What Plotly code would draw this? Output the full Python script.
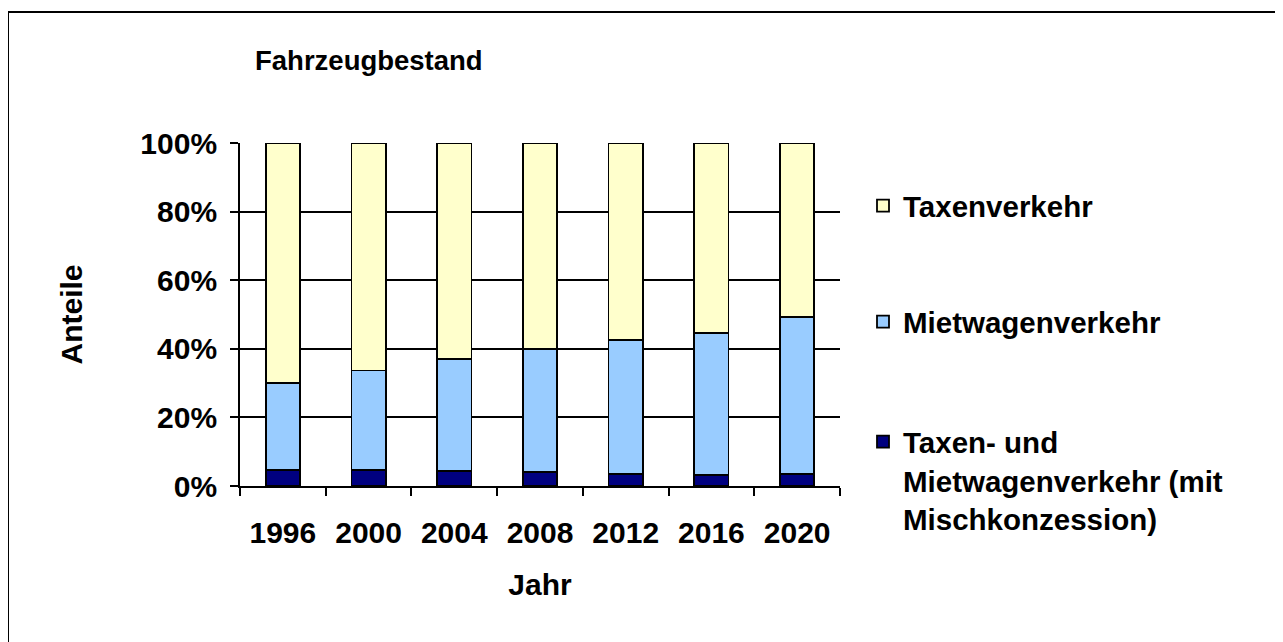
import plotly.graph_objects as go

years = ["1996", "2000", "2004", "2008", "2012", "2016", "2020"]
misch = [0.046, 0.046, 0.044, 0.040, 0.034, 0.031, 0.035]
miet_top = [0.300, 0.337, 0.371, 0.400, 0.426, 0.445, 0.492]
mietwagen = [round(t - m, 3) for t, m in zip(miet_top, misch)]
taxen = [round(1 - t, 3) for t in miet_top]

names = ["Taxenverkehr", "Mietwagenverkehr",
         "Taxen- und<br>Mietwagenverkehr (mit<br>Mischkonzession)"]
colors = ["#FFFFCC", "#99CCFF", "#000080"]

OFF = 8  # page body margin
W, H = 1283 - OFF, 642 - OFF
L, T = 240 - OFF, 143 - OFF
R = 1283 - 840
B = 642 - 486
pw, ph = W - L - R, H - T - B

def px(x):
    return (x - OFF - L) / pw

def py(y):
    return (H - B - (y - OFF)) / ph

fig = go.Figure()
fig.add_trace(go.Bar(x=years, y=misch, name=names[2], legend="legend3",
                     marker=dict(color=colors[2], line=dict(color="black", width=1.8))))
fig.add_trace(go.Bar(x=years, y=mietwagen, name=names[1], legend="legend2",
                     marker=dict(color=colors[1], line=dict(color="black", width=1.8))))
fig.add_trace(go.Bar(x=years, y=taxen, name=names[0], legend="legend",
                     marker=dict(color=colors[0], line=dict(color="black", width=1.8))))

font = dict(family="Liberation Sans, Arial, sans-serif", size=30, color="black", weight="bold")
leg_font = dict(family="Liberation Sans, Arial, sans-serif", size=29.5, color="black", weight="bold")

leg_common = dict(font=leg_font, bgcolor="rgba(0,0,0,0)", borderwidth=0, valign="top",
                  xanchor="left", itemclick=False, visible=True)

fig.update_layout(
    width=W, height=H,
    margin=dict(l=L, r=R, t=T, b=B, autoexpand=False),
    paper_bgcolor="white", plot_bgcolor="white",
    barmode="stack", bargap=0.6,
    font=font,
    showlegend=True,
    hovermode=False,
    title=dict(text="Fahrzeugbestand", x=(255 - OFF) / W, xanchor="left", xref="container",
               y=1 - (60 - OFF) / H, yanchor="middle", yref="container",
               font=dict(family="Liberation Sans, Arial, sans-serif", size=27.5, color="black", weight="bold")),
    legend=dict(x=px(863), y=py(206), yanchor="middle", **leg_common),
    legend2=dict(x=px(863), y=py(322), yanchor="middle", **leg_common),
    legend3=dict(x=px(863), y=py(416), yanchor="top", **leg_common),
    xaxis=dict(type="category", showline=True, linecolor="black", linewidth=1.8,
               ticks="outside", tickson="boundaries", ticklen=8, tickwidth=1.8, tickcolor="black",
               showgrid=False, ticklabelstandoff=19,
               title=dict(text="Jahr", standoff=26, font=font)),
    yaxis=dict(range=[0, 1], tickformat=".0%", dtick=0.2, tick0=0,
               showline=True, linecolor="black", linewidth=1.8,
               ticks="outside", ticklen=8, tickwidth=1.8, tickcolor="black",
               showgrid=True, gridcolor="black", gridwidth=1.8, zeroline=False,
               ticklabelstandoff=7,
               title=dict(text="Anteile", standoff=49, font=font)),
    shapes=[dict(type="rect", xref="paper", yref="paper",
                 x0=px(8), x1=px(1276), y0=py(720), y1=py(12),
                 line=dict(color="black", width=2), fillcolor="rgba(0,0,0,0)", layer="below")],
)

fig.write_html("out.html")
